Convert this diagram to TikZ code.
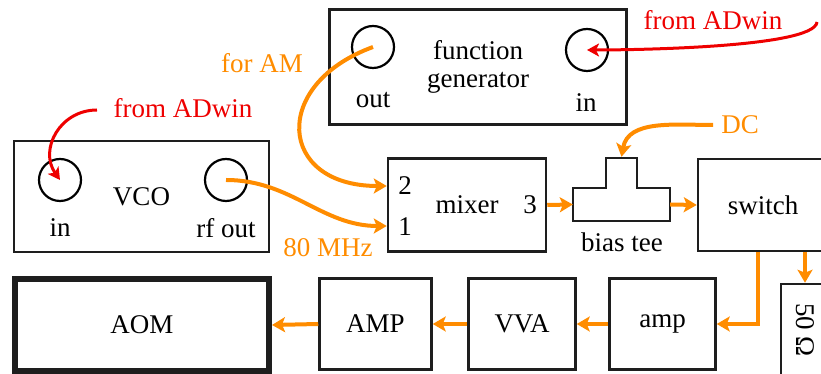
\documentclass[tikz,border=0pt]{standalone}
\usepackage{fontspec}
\setmainfont{LiberationSerif}[Extension=.ttf, UprightFont=*-Regular]
\usepackage{tikz}
\usetikzlibrary{arrows.meta, positioning, calc}
\definecolor{sigorange}{RGB}{255,140,0}
\definecolor{ctrlred}{RGB}{238,0,0}
\definecolor{boxdark}{RGB}{30,30,30}
\tikzset{
  block/.style={rectangle, draw=boxdark, line width=2.5pt, align=center,
    font=\fontsize{27}{28}\selectfont, inner sep=0pt},
  port/.style={circle, draw=black, line width=2.2pt, minimum size=42pt, inner sep=0pt},
  lbl/.style={font=\fontsize{27}{28}\selectfont, inner sep=0pt},
  siglbl/.style={lbl, text=sigorange},
  ctrllbl/.style={lbl, text=ctrlred},
  sigarrow/.style={-{Stealth[length=13pt,width=15pt,inset=3pt]}, line width=4pt, color=sigorange},
  ctrlarrow/.style={-{Stealth[length=12pt,width=13pt,inset=3pt]}, line width=3pt, color=ctrlred}
}
\begin{document}
\begin{tikzpicture}[x=1pt, y=1pt,
  teeline/.style={draw=boxdark, line width=2.5pt, line join=miter}]
  \useasboundingbox (0,0) rectangle (821,374);

  % Nodes
  \node[block, minimum width=297pt, minimum height=115pt] (fg) at (478,307) {function\\generator};
  \node[port] (fgout) at (373,327) {};
  \node[port] (fgin) at (587,324) {};
  \node[lbl] (fgoutlbl) at (373,274) {out};
  \node[lbl] (fginlbl) at (586,271) {in};

  \node[block, minimum width=255pt, minimum height=111pt] (vco) at (141.5,177.5) {VCO};
  \node[port] (vcoin) at (60,194) {};
  \node[port] (rfout) at (226,194) {};
  \node[lbl] (vcoinlbl) at (60,146) {in};
  \node[lbl] (rfoutlbl) at (226,146) {rf out};

  \node[block, minimum width=158pt, minimum height=93pt] (mixer) at (467,169) {mixer};
  \node[lbl] (mixtwo) at (405,188) {2};
  \node[lbl] (mixone) at (405,147) {1};
  \node[lbl] (mixthree) at (530,169) {3};

  \node[minimum width=97pt, minimum height=33pt, inner sep=0pt] (biastee) at (621.5,169.5) {};
  \node[lbl] (biasteelbl) at (622,132) {bias tee};
  \coordinate (dcport) at ($(biastee.north)+(0,31)$);

  \node[block, minimum width=130pt, minimum height=92pt] (switch) at (763,169) {switch};

  \node[block, line width=6pt, minimum width=254pt, minimum height=92pt] (aom) at (142,49) {AOM};
  \node[block, minimum width=112pt, minimum height=91pt] (ampl) at (375.5,50) {AMP};
  \node[block, minimum width=107pt, minimum height=91pt] (vva) at (522,50) {VVA};
  \node[block, minimum width=106pt, minimum height=91pt] (amp) at (662.5,50) {amp};
  \node[block, minimum width=48pt, minimum height=100pt] (term) at (805,40) {};
  \node[lbl, rotate=-90] (termlbl) at (805,44) {50 Ω};

  \node[ctrllbl] (adwinvco) at (183,266) {from ADwin};
  \coordinate (adwinvcosrc) at (97,264);
  \node[ctrllbl] (adwinfg) at (713,354) {from ADwin};
  \coordinate (adwinfgsrc) at (817,352);
  \node[siglbl] (foram) at (262,311) {for AM};
  \node[siglbl] (mhz) at (328,126) {80 MHz};
  \node[siglbl] (dc) at (740,249) {DC};
  \coordinate (dcsrc) at (713,249);

  % bias tee outline
  \draw[teeline] (biastee.south west) |- ([xshift=-15.5pt]biastee.north) -- ++(0,30) -- ++(31,0)
    -- ++(0,-30) -| (biastee.south east) -- cycle;

  % Connections
  \draw[ctrlarrow] (adwinvcosrc) to[out=180, in=125, looseness=1.2] (vcoin.center);
  \draw[ctrlarrow] (adwinfgsrc) to[out=-95, in=0, looseness=0.3] (fgin.center);
  \draw[sigarrow] (fgout.center) to[out=200, in=180, looseness=2] ([yshift=19pt]mixer.west);
  \draw[sigarrow] (rfout.center) to[out=0, in=180] ([yshift=-21pt]mixer.west);
  \draw[sigarrow] (mixer.east) -- (biastee.west);
  \draw[sigarrow] (dcsrc) to[out=180, in=80] (dcport);
  \draw[sigarrow] (biastee.east) -- (switch.west);
  \draw[sigarrow] ([xshift=-5pt]switch.south) |- (amp.east);
  \draw[sigarrow] (switch.south -| term.north) -- (term.north);
  \draw[sigarrow] (amp.west) -- (vva.east);
  \draw[sigarrow] (vva.west) -- (ampl.east);
  \draw[sigarrow] (ampl.west) -- (aom.east);

\end{tikzpicture}
\end{document}
